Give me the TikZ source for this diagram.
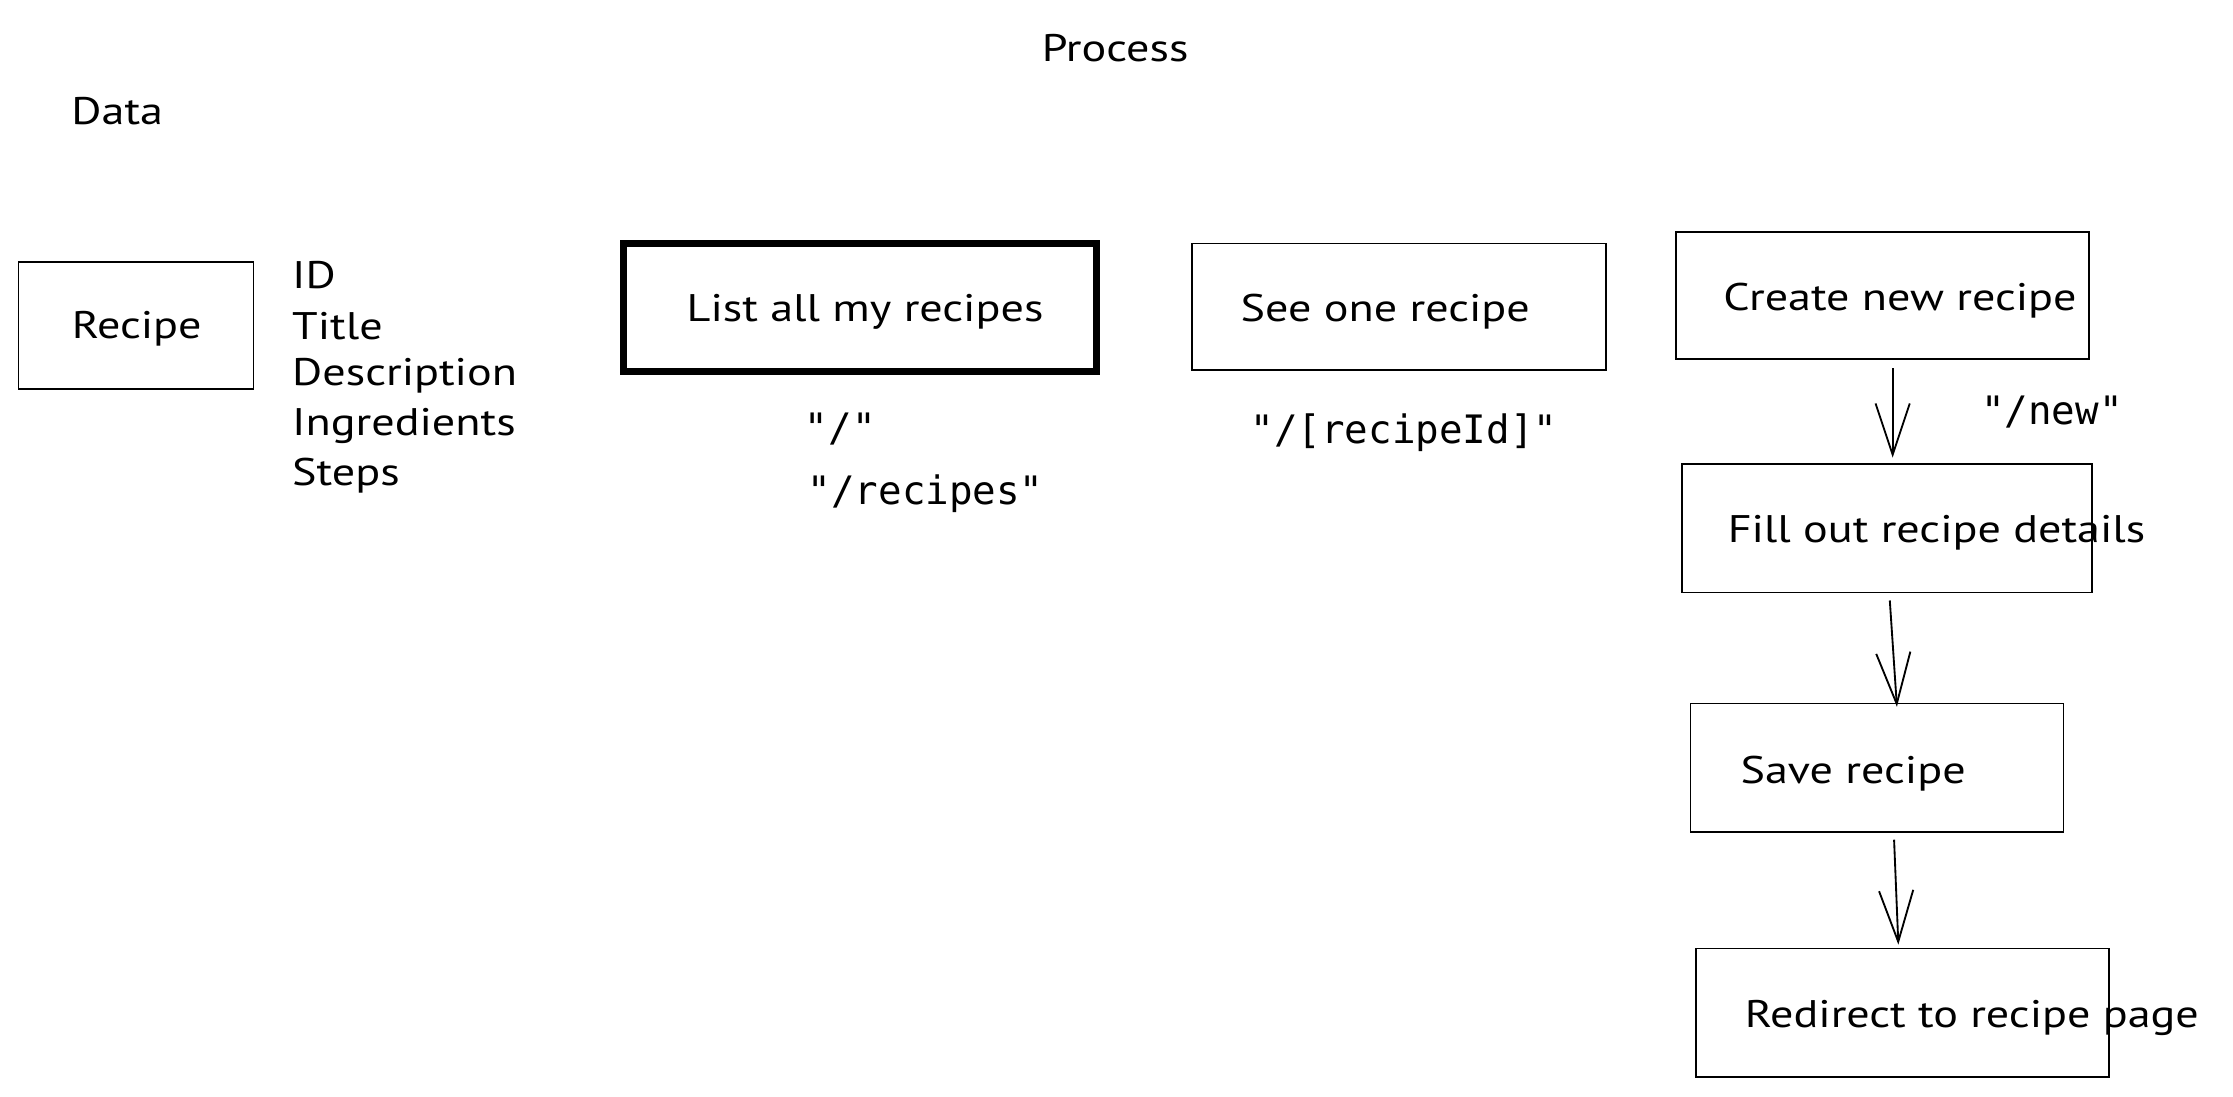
\documentclass[tikz,border=0pt]{standalone}
\usepackage{fontspec}
\setmainfont[FakeStretch=1.2]{PT Sans}
\newfontfamily\codefont{DejaVu Sans Mono}
\usetikzlibrary{arrows.meta,calc}
\tikzset{
  box/.style={draw=black, line width=1.3pt, rectangle, inner sep=0pt},
  thickbox/.style={draw=black, line width=5pt, rectangle, inner sep=0pt},
  hand/.style={anchor=west, inner sep=0pt, yshift=-3pt, font=\fontsize{27}{34}\selectfont},
  code/.style={anchor=west, inner sep=0pt, yshift=-2pt, font=\codefont\fontsize{27.5}{33}\selectfont},
  arr/.style={line width=1.3pt, -{Straight Barb[length=36pt,width=24pt,line width=1.3pt]}},
}
\begin{document}
\begin{tikzpicture}[x=1pt,y=-1pt]
\useasboundingbox (0,0) rectangle (1568,770.3);
% titles
\node[hand, anchor=center] (process) at (783,31) {Process};
\node[hand] (data) at (50,75) {Data};
% data box
\node[box, minimum width=165pt, minimum height=89pt] (recipe) at (95.5,228.5) {};
\node[hand, anchor=center] (recipetxt) at (96,228) {Recipe};
\node[hand] (f1) at (205,190) {ID};
\node[hand] (f2) at (205,226) {Title};
\node[hand] (f3) at (205,261) {Description};
\node[hand] (f4) at (205,296) {Ingredients};
\node[hand] (f5) at (205,331) {Steps};
% list
\node[thickbox, minimum width=332pt, minimum height=90pt] (list) at (604,216) {};
\node[hand] (listtxt) at (482,216) {List all my recipes};
\node[code] (r1) at (565,299) {"/"};
\node[code] (r2) at (567,345) {"/recipes"};
% see one
\node[box, minimum width=291pt, minimum height=89pt] (see) at (982.5,215.5) {};
\node[hand] (seetxt) at (871,216) {See one recipe};
\node[code] (r3) at (878,302) {"/[recipeId]"};
% create flow
\node[box, minimum width=290pt, minimum height=89pt] (create) at (1322,207.5) {};
\node[hand] (createtxt) at (1210,208) {Create new recipe};
\node[code] (r4) at (1391,287) {"/new"};
\node[box, minimum width=288pt, minimum height=90pt] (fill) at (1325,371) {};
\node[hand] (filltxt) at (1213,371) {Fill out recipe details};
\node[box, minimum width=262pt, minimum height=90pt] (save) at (1318,539) {};
\node[hand] (savetxt) at (1222,540) {Save recipe};
\node[box, minimum width=290pt, minimum height=90pt] (redirect) at (1336,711) {};
\node[hand] (redirecttxt) at (1225,712) {Redirect to recipe page};
% arrows
\draw[arr] ($(create.south)+(7,6)$) -- ($(fill.north)+(4,-4)$);
\draw[arr] ($(fill.south)+(2,5)$) -- ($(save.north)+(14,3)$);
\draw[arr] ($(save.south)+(12,5)$) -- ($(redirect.north)+(-3,-2)$);
\end{tikzpicture}
\end{document}
